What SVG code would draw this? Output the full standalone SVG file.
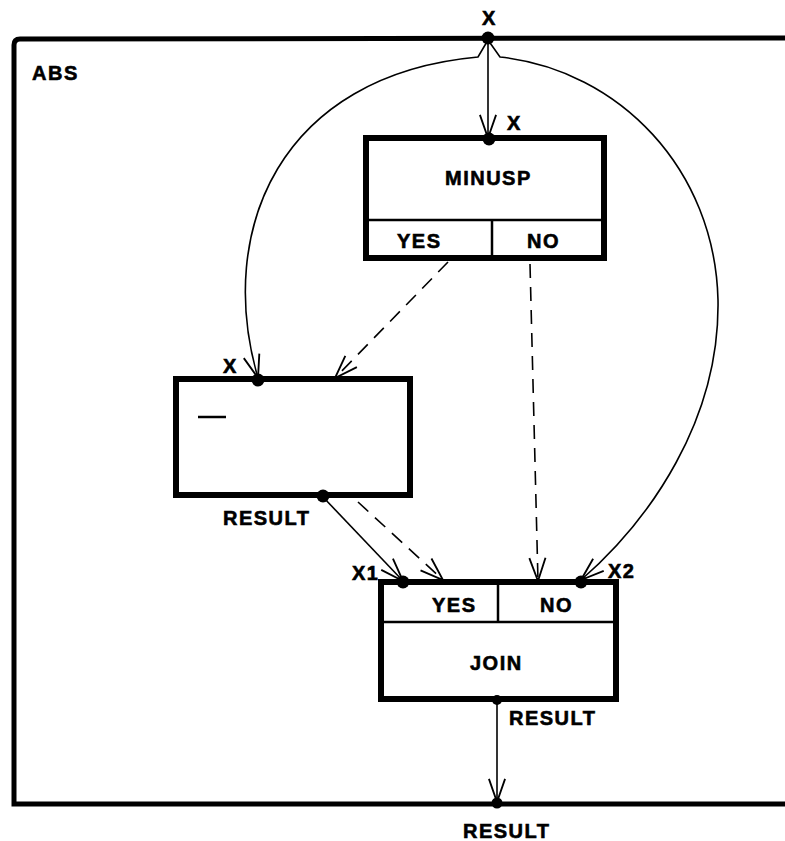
<svg xmlns="http://www.w3.org/2000/svg" width="785" height="841" viewBox="0 0 785 841">
<defs>
<marker id="arr" markerUnits="userSpaceOnUse" markerWidth="30" markerHeight="30" viewBox="-22 -12 26 24" refX="0" refY="0" orient="auto">
<path d="M-20,-7 L0,0 L-20,7" fill="none" stroke="#000" stroke-width="1.6"/>
</marker>
</defs>
<style>
.t{font-family:"Liberation Sans",Arial,Helvetica,sans-serif;font-weight:bold;font-size:20px;letter-spacing:1.5px;fill:#000;stroke:#000;stroke-width:0.6}
.box{fill:#fff;stroke:#000;stroke-width:6}
.div{stroke:#000;stroke-width:2.5;fill:none}
.ln{stroke:#000;stroke-width:1.6;fill:none}
.dash{stroke:#000;stroke-width:1.6;fill:none;stroke-dasharray:14 9}
.dot{fill:#000}
</style>
<rect width="785" height="841" fill="#fff"/>
<g id="frame">
<path d="M790,38 L20,39 Q14,39 14,45 L14,804 L790,804" fill="none" stroke="#000" stroke-width="5"/>
<text class="t" x="32" y="80">ABS</text>
<text class="t" x="482" y="25">X</text>
<text class="t" x="463" y="838">RESULT</text>
</g>
<g id="minusp">
<rect class="box" x="366" y="138" width="238" height="120"/>
<line class="div" x1="366" y1="220" x2="604" y2="220"/>
<line class="div" x1="492" y1="220" x2="492" y2="258"/>
<text class="t" x="445" y="185">MINUSP</text>
<text class="t" x="397" y="248">YES</text>
<text class="t" x="527" y="248">NO</text>
<text class="t" x="507" y="130">X</text>
</g>
<g id="neg">
<rect class="box" x="176" y="379" width="234" height="116"/>
<line x1="198" y1="417" x2="226" y2="417" stroke="#000" stroke-width="2.5"/>
<text class="t" x="223" y="373">X</text>
<text class="t" x="223" y="525">RESULT</text>
</g>
<g id="join">
<rect class="box" x="381" y="582" width="235" height="117"/>
<line class="div" x1="381" y1="622" x2="616" y2="622"/>
<line class="div" x1="498" y1="582" x2="498" y2="622"/>
<text class="t" x="432" y="612">YES</text>
<text class="t" x="540" y="612">NO</text>
<text class="t" x="470" y="670">JOIN</text>
<text class="t" x="352" y="580">X1</text>
<text class="t" x="608" y="578">X2</text>
<text class="t" x="509" y="725">RESULT</text>
</g>
<g id="connectors">
<line class="ln" x1="488" y1="40" x2="488" y2="138" marker-end="url(#arr)"/>
<path class="ln" d="M488,40 L478,57 C 280,75 215,230 258,378" marker-end="url(#arr)"/>
<path class="ln" d="M488,40 L500,57 C 620,70 715,170 718,300 C 720,420 650,520 581,580" marker-end="url(#arr)"/>
<line class="dash" x1="448" y1="262" x2="335" y2="378" marker-end="url(#arr)"/>
<line class="dash" x1="530" y1="264" x2="538" y2="581" marker-end="url(#arr)"/>
<line class="ln" x1="323" y1="497" x2="403" y2="581" marker-end="url(#arr)"/>
<line class="dash" x1="358" y1="502" x2="443" y2="580" marker-end="url(#arr)"/>
<line class="ln" x1="497" y1="700" x2="497" y2="802" marker-end="url(#arr)"/>
<circle class="dot" cx="488" cy="38" r="6.5"/>
<circle class="dot" cx="489" cy="139" r="6.5"/>
<circle class="dot" cx="258" cy="380" r="6.5"/>
<circle class="dot" cx="323" cy="496" r="6.5"/>
<circle class="dot" cx="403" cy="582" r="6.5"/>
<circle class="dot" cx="581" cy="582" r="6.5"/>
<circle class="dot" cx="497" cy="700" r="5"/>
<circle class="dot" cx="497" cy="803" r="5.5"/>
</g>
</svg>
